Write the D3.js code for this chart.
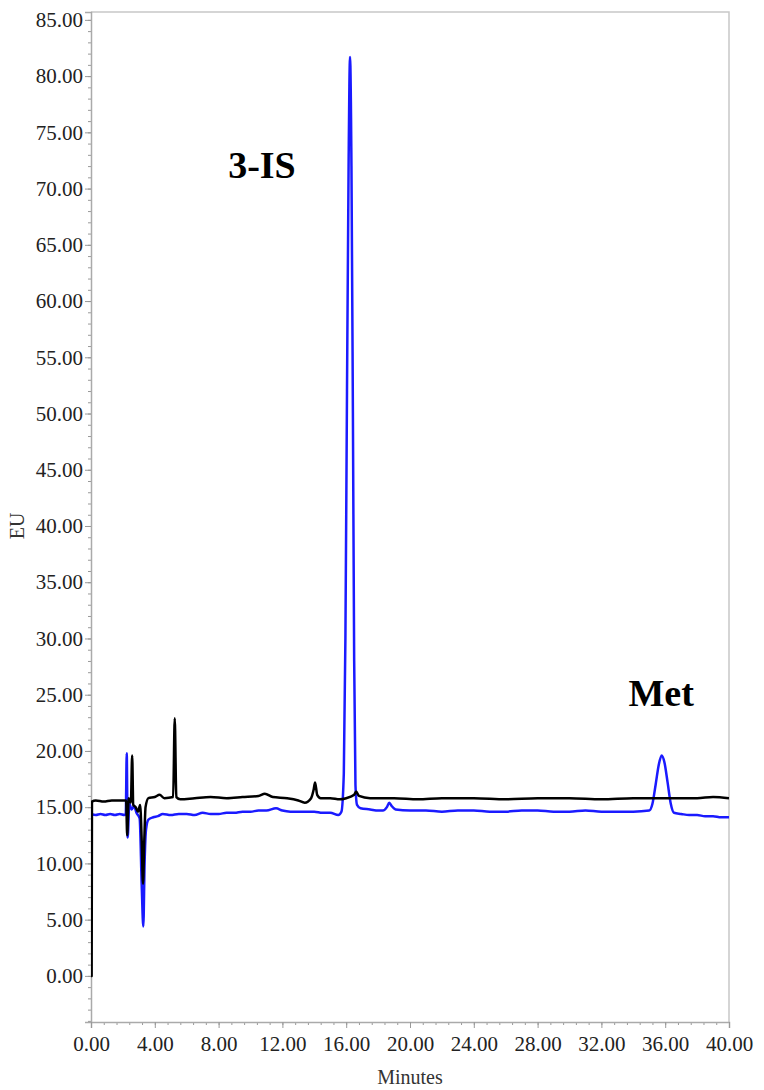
<!DOCTYPE html>
<html>
<head>
<meta charset="utf-8">
<script src="https://cdn.jsdelivr.net/npm/d3@7"></script>
<style>
  body { margin: 0; background: #fff; }
  svg text { font-family: "Liberation Serif", "Times New Roman", serif; }
</style>
</head>
<body>
<div id="chart"></div>
<script>

// time ticks (minutes) and EU ticks
var xTicks = [0, 4, 8, 12, 16, 20, 24, 28, 32, 36, 40];
var yTicks = [0, 5, 10, 15, 20, 25, 30, 35, 40, 45, 50, 55, 60, 65, 70, 75, 80, 85];

// blue trace  [minutes, EU]
var blueTrace = [
  [0.00,14.4],[0.30,14.3],[0.60,14.4],[0.90,14.3],[1.20,14.4],[1.50,14.3],[1.80,14.4],[2.10,14.3],
  [2.18,14.4],[2.24,19.8],[2.30,12.3],[2.40,15.3],[2.55,14.8],[2.70,15.1],[2.85,14.5],[3.05,14.0],
  [3.18,8.0],[3.28,4.4],[3.36,10.0],[3.45,13.0],[3.60,13.9],[3.90,14.1],[4.20,14.2],[4.50,14.4],
  [5.00,14.3],[5.50,14.4],[6.00,14.4],[6.50,14.3],[7.00,14.5],[7.50,14.4],[8.00,14.4],[8.50,14.5],
  [9.00,14.5],[9.50,14.6],[10.00,14.6],[10.50,14.7],[11.00,14.7],[11.60,14.9],[12.00,14.7],
  [12.50,14.6],[13.00,14.6],[13.50,14.6],[14.00,14.6],[14.50,14.5],[15.00,14.5],[15.50,14.3],
  [15.70,14.6],[15.85,18.0],[15.95,30.0],[16.05,52.0],[16.15,72.0],[16.24,81.7],[16.33,72.0],
  [16.42,50.0],[16.50,28.0],[16.58,17.0],[16.68,15.2],[16.90,14.9],[17.50,14.8],[18.00,14.7],
  [18.30,14.7],[18.55,15.0],[18.70,15.4],[18.85,15.1],[19.10,14.8],[20.00,14.7],[21.00,14.7],
  [22.00,14.6],[23.00,14.7],[24.00,14.7],[25.00,14.6],[26.00,14.6],[27.00,14.7],[28.00,14.7],
  [29.00,14.6],[30.00,14.6],[31.00,14.7],[32.00,14.6],[33.00,14.6],[34.00,14.6],[35.00,14.7],
  [35.20,15.3],[35.40,17.0],[35.60,18.8],[35.78,19.6],[35.95,19.0],[36.15,17.2],[36.35,15.3],
  [36.55,14.5],[37.00,14.4],[37.50,14.3],[38.00,14.3],[38.50,14.2],[39.00,14.2],[39.50,14.1],[40.00,14.1]
];

// black trace  [minutes, EU]
var blackTrace = [
  [0.00,0.0],[0.04,0.0],[0.06,15.5],[0.30,15.6],[0.80,15.5],[1.30,15.6],[1.80,15.6],[2.20,15.6],
  [2.27,12.5],[2.36,15.8],[2.50,15.4],[2.58,19.6],[2.65,15.2],[2.80,15.0],[2.95,14.6],[3.08,15.2],
  [3.18,12.0],[3.26,8.2],[3.34,12.0],[3.42,15.0],[3.60,15.8],[4.00,15.9],[4.30,16.1],[4.60,15.8],
  [5.15,15.9],[5.25,22.9],[5.35,15.9],[5.60,15.7],[6.50,15.8],[7.50,15.9],[8.50,15.8],[9.50,15.9],
  [10.50,16.0],[10.90,16.2],[11.40,15.9],[12.30,15.8],[13.00,15.6],[13.40,15.4],[13.80,15.8],
  [13.95,16.5],[14.05,17.2],[14.18,16.1],[14.40,15.8],[15.00,15.8],[15.60,15.7],[16.00,15.8],
  [16.50,16.1],[16.62,16.4],[16.80,16.0],[17.50,15.8],[19.00,15.8],[20.50,15.7],[22.00,15.8],
  [24.00,15.8],[26.00,15.7],[28.00,15.8],[30.00,15.8],[32.00,15.7],[34.00,15.8],[36.00,15.8],
  [38.00,15.8],[39.00,15.9],[40.00,15.8]
];

var peakLabels = [
  { text: "3-IS", t: 8.6,  v: 70.9 },
  { text: "Met",  t: 33.7, v: 24.0 }
];

var width  = 764;
var height = 1090;
var margin = { top: 12, right: 35, bottom: 68, left: 91 };
var serif  = "'Liberation Serif', 'Times New Roman', serif";

var svg = d3.select("#chart").append("svg")
    .attr("width", width)
    .attr("height", height);

var x = d3.scaleLinear()
    .domain([0, 40])
    .range([margin.left, width - margin.right]);

var y = d3.scaleLinear()
    .domain([-4.1, 85.7])
    .range([height - margin.bottom, margin.top]);

var fmt = d3.format(".2f");

// frame top + right
svg.append("path")
    .attr("d", "M" + x(0) + "," + y(85.7) + "H" + x(40) + "V" + y(-4.1))
    .attr("fill", "none")
    .attr("stroke", "#c8c8c8")
    .attr("stroke-width", 1.5);

// minor ticks
svg.append("g")
    .attr("transform", "translate(" + margin.left + ",0)")
    .call(d3.axisLeft(y).tickValues(d3.range(-4, 86, 1)).tickSize(3).tickFormat(""))
    .call(function(g) { g.select(".domain").remove(); })
    .selectAll("line").attr("stroke", "#999");

svg.append("g")
    .attr("transform", "translate(0," + (height - margin.bottom) + ")")
    .call(d3.axisBottom(x).tickValues(d3.range(0, 40.01, 0.8)).tickSize(3).tickFormat(""))
    .call(function(g) { g.select(".domain").remove(); })
    .selectAll("line").attr("stroke", "#999");

// major axes
var yAxis = svg.append("g")
    .attr("transform", "translate(" + margin.left + ",0)")
    .call(d3.axisLeft(y).tickValues(yTicks).tickSize(6).tickPadding(2).tickFormat(fmt));

var xAxis = svg.append("g")
    .attr("transform", "translate(0," + (height - margin.bottom) + ")")
    .call(d3.axisBottom(x).tickValues(xTicks).tickSize(6).tickPadding(8).tickFormat(fmt));

[yAxis, xAxis].forEach(function(g) {
  g.attr("font-family", serif).attr("font-size", 21);
  g.select(".domain").attr("stroke", "#aaa").attr("stroke-width", 1.5);
  g.selectAll(".tick line").attr("stroke", "#999");
  g.selectAll(".tick text")
      .attr("fill", "#222")
      .style("font-size", "21px")
      .style("font-family", serif);
});

// axis titles
svg.append("text")
    .attr("x", (x(0) + x(40)) / 2)
    .attr("y", 1084)
    .attr("text-anchor", "middle")
    .attr("fill", "#333")
    .style("font-size", "20px")
    .text("Minutes");

svg.append("text")
    .attr("transform", "translate(24," + y(40) + ") rotate(-90)")
    .attr("text-anchor", "middle")
    .attr("fill", "#333")
    .style("font-size", "20px")
    .text("EU");

// traces
svg.append("clipPath").attr("id", "plot-clip")
  .append("rect")
    .attr("x", margin.left)
    .attr("y", margin.top)
    .attr("width", x(40) - margin.left)
    .attr("height", y(-4.1) - margin.top);

var line = d3.line()
    .x(function(d) { return x(d[0]); })
    .y(function(d) { return y(d[1]); })
    .curve(d3.curveMonotoneX);

var traces = svg.append("g").attr("clip-path", "url(#plot-clip)");

traces.append("path")
    .datum(blueTrace)
    .attr("d", line)
    .attr("fill", "none")
    .attr("stroke", "#1a1aff")
    .attr("stroke-width", 2.5)
    .attr("stroke-linejoin", "round");

traces.append("path")
    .datum(blackTrace)
    .attr("d", line)
    .attr("fill", "none")
    .attr("stroke", "#000")
    .attr("stroke-width", 2.5)
    .attr("stroke-linejoin", "round");

// peak names
svg.selectAll(".peak-label")
    .data(peakLabels)
  .enter().append("text")
    .attr("class", "peak-label")
    .attr("x", function(d) { return x(d.t); })
    .attr("y", function(d) { return y(d.v); })
    .attr("fill", "#000")
    .style("font-size", "38px")
    .style("font-weight", "bold")
    .text(function(d) { return d.text; });

</script>
</body>
</html>
